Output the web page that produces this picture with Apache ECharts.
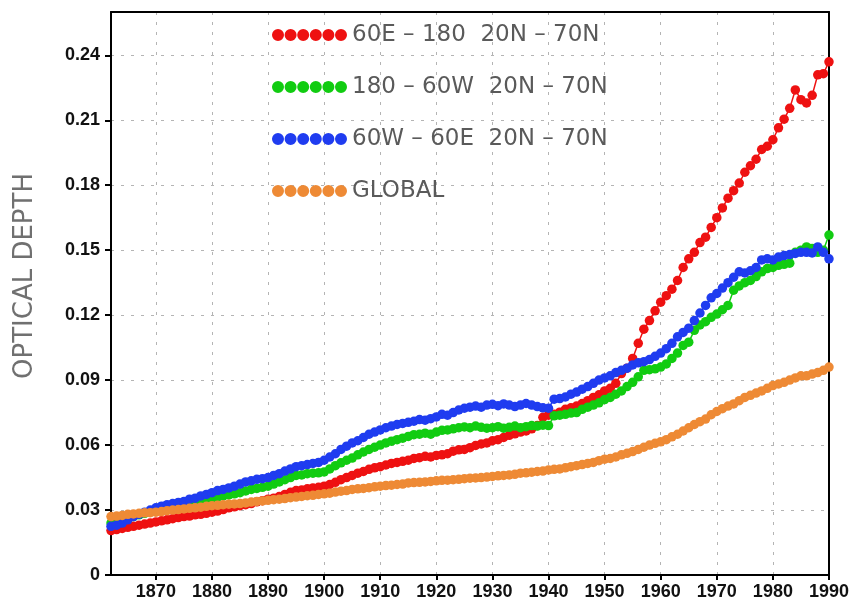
<!DOCTYPE html>
<html>
<head>
<meta charset="utf-8">
<script src="https://cdn.jsdelivr.net/npm/echarts@6/dist/echarts.min.js"></script>
<style>
  html, body { margin: 0; padding: 0; background: #fff; }
  #chart { width: 852px; height: 603px; }
</style>
</head>
<body>
<div id="chart"></div>
<script>
// Yearly optical depth, first value is 1862, last is 1990
const FIRST_YEAR = 1862;
const LAST_YEAR = 1990;

const seriesNames = [
  '60E – 180  20N – 70N',
  '180 – 60W  20N – 70N',
  '60W – 60E  20N – 70N',
  'GLOBAL'
];

const east60to180 = [
  .0205, .021, .0215, .022, .0225, .023, .0235, .024,
  .0245, .025, .0255, .026, .0265, .027, .0272, .0278, .028, .0285,
  .029, .0295, .0302, .031, .0315, .032, .0325, .033, .0338, .0343,
  .035, .0355, .0362, .0372, .0382, .039, .0393, .0398, .0402, .0405,
  .041, .0418, .0428, .044, .045, .046, .047, .0478, .0488, .0495,
  .050, .0508, .0515, .052, .0525, .053, .0538, .0542, .0548, .0545,
  .0552, .0555, .056, .0572, .0578, .058, .0588, .0598, .0605, .061,
  .062, .0625, .0635, .0645, .0652, .066, .0665, .0675, .069, .0728,
  .0738, .0742, .0752, .0765, .0772, .078, .0792, .0805, .082, .0832,
  .085, .0862, .0885, .093, .0955, .100, .107, .1135, .1175, .122,
  .126, .129, .132, .136, .142, .146, .149, .1535, .156, .1605,
  .165, .1695, .174, .1775, .181, .186, .189, .192, .1965, .198,
  .201, .2065, .2105, .2155, .224, .2195, .218, .2215, .231, .2315,
  .237
];

const west180to60 = [
  .024, .0245, .025, .026, .027, .0278, .0285, .029,
  .030, .0305, .031, .0318, .0325, .033, .0335, .034, .0345, .035,
  .0355, .036, .0365, .037, .0375, .038, .0388, .0395, .040, .0405,
  .041, .042, .043, .044, .045, .046, .0462, .0468, .047, .0472,
  .0476, .049, .0505, .0518, .053, .054, .0555, .0568, .058, .059,
  .060, .061, .0618, .0625, .0632, .064, .0648, .065, .0655, .065,
  .066, .0668, .067, .0675, .068, .0684, .068, .0688, .0682, .0678,
  .068, .0685, .0678, .0682, .0688, .068, .0685, .069, .0688, .0692,
  .069, .0735, .0738, .0742, .0748, .075, .0765, .0775, .0785, .0795,
  .081, .082, .0835, .085, .087, .089, .0915, .0945, .0948, .0952,
  .096, .0975, .100, .1025, .106, .1075, .113, .1155, .117, .119,
  .1205, .1225, .1245, .1315, .1335, .135, .136, .1378, .140, .1415,
  .142, .143, .1435, .144, .149, .150, .1515, .1508, .149, .150,
  .157
];

const west60toEast60 = [
  .0225, .023, .024, .0255, .027, .028, .029, .030,
  .031, .0318, .0325, .033, .0335, .034, .035, .0355, .0365, .0372,
  .038, .039, .0395, .0402, .041, .042, .043, .0435, .0442, .0445,
  .045, .046, .0468, .048, .049, .050, .0505, .051, .0515, .052,
  .053, .0545, .056, .058, .0595, .061, .062, .0635, .065, .066,
  .067, .068, .0688, .0695, .070, .0705, .071, .0718, .0715, .0722,
  .073, .0742, .0738, .075, .0762, .077, .0775, .078, .0775, .0785,
  .0788, .0782, .079, .0785, .0778, .0785, .0792, .0785, .0778, .0772,
  .077, .0812, .0815, .0822, .0835, .0845, .0858, .087, .0885, .090,
  .091, .092, .0935, .0945, .0955, .097, .098, .0985, .0995, .101,
  .1025, .1045, .107, .110, .112, .114, .1175, .121, .1245, .128,
  .130, .1325, .135, .1375, .140, .1395, .1405, .142, .1455, .146,
  .1455, .1468, .1475, .148, .1485, .149, .149, .1487, .1515, .149,
  .146
];

const globalMean = [
  .027, .0272, .0275, .028, .0282, .0285, .0287, .0288,
  .029, .0293, .0297, .030, .0302, .0305, .0308, .031, .0313, .0317,
  .032, .0322, .0325, .0327, .0328, .033, .0333, .0337, .034, .0342,
  .0345, .0348, .035, .0353, .0357, .036, .0363, .0366, .0368, .0372,
  .0375, .0378, .0383, .0387, .039, .0395, .0398, .040, .0403, .0407,
  .041, .0413, .0415, .0418, .042, .0425, .0427, .0428, .043, .0432,
  .0435, .0437, .0438, .044, .0442, .0445, .0447, .0448, .045, .0452,
  .0455, .0458, .046, .0462, .0465, .047, .0472, .0475, .0478, .048,
  .0485, .0488, .049, .0495, .050, .0505, .051, .0515, .052, .0528,
  .0535, .0538, .0545, .0555, .0562, .057, .058, .059, .060, .0608,
  .0615, .0625, .0638, .065, .0665, .068, .0695, .0708, .072, .074,
  .0755, .0768, .078, .079, .0805, .082, .083, .084, .085, .0862,
  .0875, .0882, .089, .090, .091, .092, .092, .0928, .0935, .0945,
  .096
];

const seriesValues = [east60to180, west180to60, west60toEast60, globalMean];
const seriesColors = ['#ee1111', '#11cc11', '#1f3cf0', '#ee8a35'];

const Y_MAX = 0.26;
const Y_STEP = 0.03;

function pairs(values) {
  return values.map((v, i) => [FIRST_YEAR + i, v]);
}

// a row of n dots, used as the legend marker
function dotRowPath(n, r, gap) {
  let d = '';
  for (let i = 0; i < n; i++) {
    const cx = r + i * (2 * r + gap);
    d += 'M' + (cx - r) + ',' + r + 'a' + r + ',' + r + ' 0 1,0 ' + (2 * r) + ',0' +
         'a' + r + ',' + r + ' 0 1,0 ' + (-2 * r) + ',0';
  }
  return 'path://' + d;
}
const legendIcon = dotRowPath(6, 6, 0.6);

const chart = echarts.init(document.getElementById('chart'), null, { renderer: 'canvas' });

const gridLine = {
  show: true, showMinLine: false, showMaxLine: false,
  lineStyle: { color: '#b4b4b4', type: [3, 7], width: 1 }
};
const tickFont = { color: '#111', fontFamily: 'Liberation Sans', fontWeight: 'bold', fontSize: 18 };
const frameLine = { show: true, onZero: false, lineStyle: { color: '#000', width: 2 } };

chart.setOption({
  backgroundColor: '#fff',
  animation: false,
  grid: {
    left: 111, right: 23, top: 12, bottom: 28,
    show: false
  },
  legend: {
    orient: 'vertical',
    left: 267, top: 18,
    itemWidth: 75, itemHeight: 12,
    itemGap: 28,
    icon: legendIcon,
    selectedMode: false,
    data: seriesNames.map((n, i) => ({ name: n, itemStyle: { color: seriesColors[i] } })),
    textStyle: { color: '#5a5a5a', fontFamily: 'DejaVu Sans', fontSize: 23, lineHeight: 24 }
  },
  graphic: [{
    type: 'text',
    x: 25, y: 276,
    rotation: Math.PI / 2,
    style: {
      text: 'OPTICAL DEPTH',
      fill: '#707070',
      font: '26px "DejaVu Sans"',
      align: 'center',
      verticalAlign: 'middle'
    }
  }],
  xAxis: [{
    type: 'value',
    min: FIRST_YEAR,
    max: LAST_YEAR,
    splitNumber: 13,
    axisLine: frameLine,
    axisTick: { show: true, inside: false, length: 5, lineStyle: { color: '#000', width: 2 } },
    axisLabel: { ...tickFont, margin: 8, showMinLabel: false, formatter: v => String(v) },
    splitLine: gridLine
  }, {
    type: 'value', position: 'top',
    min: FIRST_YEAR, max: LAST_YEAR,
    axisLine: frameLine,
    axisTick: { show: false }, axisLabel: { show: false }, splitLine: { show: false }
  }],
  yAxis: [{
    type: 'value',
    min: 0,
    max: Y_MAX,
    interval: Y_STEP,
    axisLine: frameLine,
    axisTick: { show: true, inside: false, length: 6, lineStyle: { color: '#000', width: 2 } },
    axisLabel: {
      ...tickFont, margin: 11, showMaxLabel: false,
      formatter: v => (v === 0 ? '0' : v.toFixed(2))
    },
    splitLine: gridLine
  }, {
    type: 'value', position: 'right',
    min: 0, max: Y_MAX,
    axisLine: frameLine,
    axisTick: { show: false }, axisLabel: { show: false }, splitLine: { show: false }
  }],
  series: seriesNames.map((name, i) => ({
    name,
    type: 'line',
    data: pairs(seriesValues[i]),
    symbol: 'circle',
    symbolSize: 9.5,
    showAllSymbol: true,
    itemStyle: { color: seriesColors[i] },
    lineStyle: { color: seriesColors[i], width: 1.5 },
    z: 2 + i
  }))
});
</script>
</body>
</html>
